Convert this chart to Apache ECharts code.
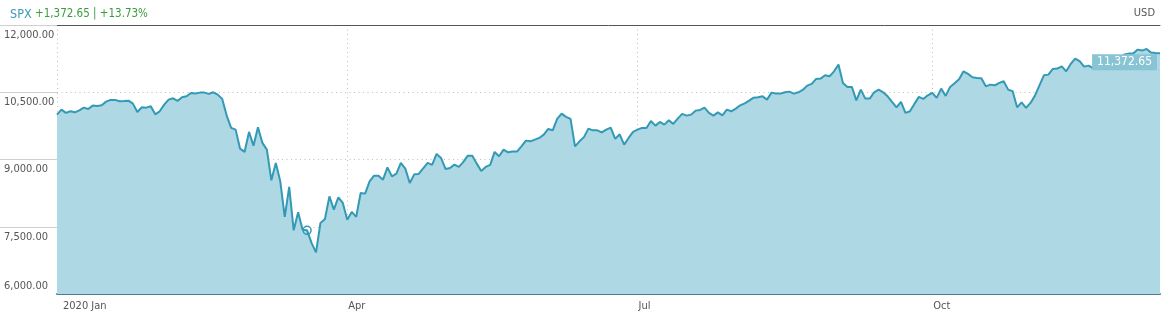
<!DOCTYPE html>
<html>
<head>
<meta charset="utf-8">
<script src="https://cdn.jsdelivr.net/npm/echarts@6/dist/echarts.min.js"></script>
<style>
  html, body { margin: 0; padding: 0; background: #fff; }
  #chart { width: 1176px; height: 327px; }
</style>
</head>
<body>
<div id="chart"></div>
<script>
// ---- data ----
const seriesName = 'SPX';
const currency = 'USD';
const startDate = '2020-01-01';          // first weekday of the series
const values = [
  10000,10113,10039,10075,10052,10097,10157,10128,10202,10195,
  10209,10291,10329,10329,10298,10304,10313,10246,10061,10164,
  10157,10186,10008,10075,10224,10336,10365,10307,10387,10409,
  10485,10470,10492,10492,10463,10499,10447,10351,9979,9704,
  9666,9242,9169,9615,9309,9718,9370,9220,8535,8923,
  8513,7719,8388,7420,7821,7435,7420,7139,6929,7585,
  7674,8178,7882,8156,8031,7658,7830,7719,8254,8239,
  8513,8640,8640,8551,8825,8624,8685,8923,8796,8477,
  8669,8678,8803,8923,8879,9124,9035,8790,8812,8886,
  8834,8946,9086,9086,8908,8745,8834,8879,9169,9071,
  9220,9160,9176,9176,9294,9421,9405,9443,9481,9555,
  9682,9651,9905,10023,9950,9905,9294,9405,9499,9689,
  9651,9651,9606,9666,9711,9459,9562,9332,9481,9615,
  9666,9704,9704,9860,9756,9838,9778,9874,9794,9912,
  10017,9979,10001,10090,10106,10157,10039,9979,10052,9985,
  10113,10075,10135,10209,10253,10313,10380,10387,10409,10336,
  10492,10470,10470,10499,10514,10470,10499,10552,10648,10686,
  10798,10804,10878,10855,10967,11117,10708,10619,10619,10320,
  10559,10358,10358,10499,10559,10499,10409,10284,10164,10284,
  10039,10075,10240,10396,10351,10432,10485,10374,10581,10418,
  10619,10699,10789,10967,10909,10833,10820,10811,10632,10670,
  10655,10708,10744,10559,10521,10164,10275,10151,10262,10425,
  10655,10878,10893,11021,11027,11079,10967,11132,11250,11195,
  11072,11094,11038,11083,11228,11228,11228,11262,11217,11340,
  11362,11362,11451,11429,11467,11384,11373,11372.65
];
const tickDates  = ['2020-01-01', '2020-04-01', '2020-07-01', '2020-10-01'];
const tickLabels = ['2020 Jan', 'Apr', 'Jul', 'Oct'];
const yMin = 6000, yMax = 12000, yStep = 1500;
const eventIndex = 56;   // hollow circle marker on the line

// ---- categories: consecutive weekdays starting at startDate ----
const categories = [];
(function () {
  const d = new Date(startDate + 'T00:00:00Z');
  while (categories.length < values.length) {
    const wd = d.getUTCDay();
    if (wd !== 0 && wd !== 6) categories.push(d.toISOString().slice(0, 10));
    d.setUTCDate(d.getUTCDate() + 1);
  }
})();

const F = "'DejaVu Sans Condensed','Liberation Sans Narrow',sans-serif";
const FS = 11;
const fmt2 = v => Number(v).toLocaleString('en-US', { minimumFractionDigits: 2, maximumFractionDigits: 2 });
const last = values.length - 1;
const change = values[last] - values[0];
const pct = change / values[0] * 100;
const sign = x => (x >= 0 ? '+' : '-');
const headText = '{s|' + seriesName + '} {g|' + sign(change) + fmt2(Math.abs(change)) + ' | ' + sign(pct) + fmt2(Math.abs(pct)) + '%}';

const isTick = (i, v) => tickDates.indexOf(v) >= 0;
const LINE = '#3399b5';
const TXT = '#555';

const chart = echarts.init(document.getElementById('chart'), null, { renderer: 'canvas' });
chart.setOption({
  animation: false,
  backgroundColor: '#fff',
  title: [
    { left: 5, top: 3, text: headText,
      textStyle: { fontWeight: 'normal', fontSize: FS + 1, fontFamily: F, rich: {
        s: { color: '#3a9ab8', fontSize: FS + 1.5, fontWeight: 'normal', fontFamily: F },
        g: { color: '#3b9b3b', fontSize: FS + 0.5, fontWeight: 'normal', fontFamily: F }
      } } },
    { right: 16, top: 3, text: currency,
      textStyle: { color: TXT, fontSize: FS, fontWeight: 'normal', fontFamily: F } }
  ],
  grid: { left: 57, right: 16, top: 25, bottom: 33, containLabel: false },
  xAxis: [
    {
      type: 'category', data: categories, boundaryGap: false,
      axisLine: { onZero: false, lineStyle: { color: '#4f7f8a', width: 2 } },
      axisTick: { show: false },
      axisLabel: {
        interval: isTick, align: 'left', margin: 7,
        color: TXT, fontSize: FS, fontFamily: F,
        formatter: (v) => {
          const k = tickDates.indexOf(v);
          if (k < 0) return '';
          return k === 0 ? '{f|' + tickLabels[k] + '}' : '{n|' + tickLabels[k] + '}';
        },
        rich: {
          f: { color: TXT, fontSize: FS, fontFamily: F, padding: [0, 0, 0, 6] },
          n: { color: TXT, fontSize: FS, fontFamily: F, padding: [0, 0, 0, 1] }
        }
      },
      splitLine: { show: true, interval: isTick, lineStyle: { color: '#bdbdbd', type: [1, 3.5], width: 1 } }
    },
    {
      type: 'category', data: categories, boundaryGap: false, position: 'top',
      axisLine: { onZero: false, lineStyle: { color: '#555', width: 1 } },
      axisTick: { show: false }, axisLabel: { show: false }, splitLine: { show: false }
    }
  ],
  yAxis: [
    {
      type: 'value', min: yMin, max: yMax, interval: yStep, position: 'left',
      axisLine: { show: false },
      axisTick: { show: true, length: 57, lineStyle: { color: '#cfcfcf', width: 1 } },
      axisLabel: {
        showMinLabel: false, align: 'left', margin: 53, verticalAlign: 'top',
        padding: [3, 0, 0, 0], lineHeight: 14,
        color: TXT, fontSize: FS, fontFamily: F,
        formatter: v => fmt2(v)
      },
      splitLine: { show: true, lineStyle: { color: '#bdbdbd', type: [1, 3.5], width: 1 } }
    },
    {
      type: 'value', min: yMin, max: yMax, interval: yStep, position: 'left',
      axisLine: { show: false }, axisTick: { show: false }, splitLine: { show: false },
      axisLabel: {
        align: 'left', margin: 53, verticalAlign: 'bottom',
        padding: [0, 0, 1, 0], lineHeight: 14,
        color: TXT, fontSize: FS, fontFamily: F,
        formatter: v => (v === yMin ? fmt2(v) : '')
      }
    }
  ],
  series: [{
    name: seriesName, type: 'line', data: values,
    xAxisIndex: 0, yAxisIndex: 0,
    symbol: 'none', smooth: false,
    lineStyle: { color: LINE, width: 2 },
    areaStyle: { color: '#add8e4', opacity: 1, origin: 'start' },
    markPoint: {
      silent: true,
      data: [
        { coord: [categories[eventIndex], values[eventIndex]], symbol: 'circle', symbolSize: 8,
          itemStyle: { color: 'rgba(255,255,255,0)', borderColor: LINE, borderWidth: 1.5 },
          label: { show: false } },
        { coord: [categories[last], values[last]], symbol: 'circle', symbolSize: 0,
          label: { show: true, position: 'left', distance: 3, offset: [0, 9],
            formatter: () => fmt2(values[last]),
            color: '#fff', backgroundColor: '#88c4d4', padding: [2, 5, 2, 5],
            fontSize: FS + 1, fontFamily: F } }
      ]
    }
  }]
});
</script>
</body>
</html>
